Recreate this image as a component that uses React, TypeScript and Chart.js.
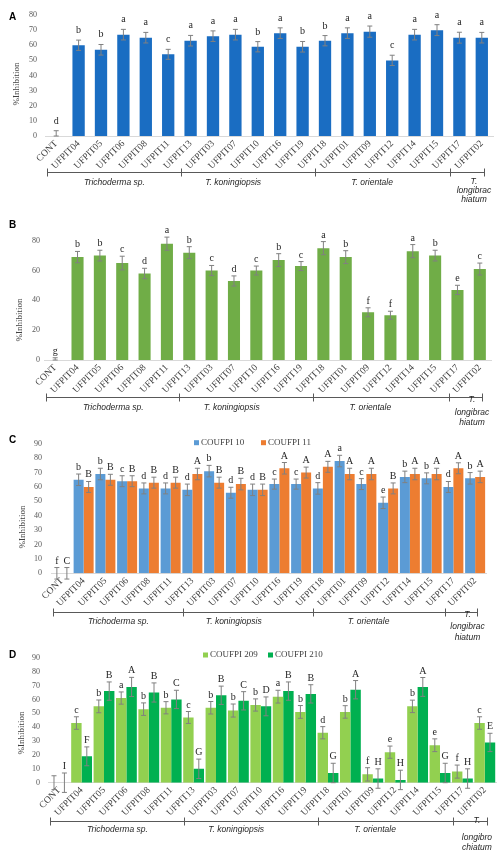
import { useEffect, useRef } from 'react';
import { Chart, registerables } from 'chart.js';

Chart.register(...registerables);

// strains, in the order of the x axis
const strains = [
  'CONT', 'UFPIT04', 'UFPIT05', 'UFPIT06', 'UFPIT08', 'UFPIT11', 'UFPIT13', 'UFPIT03', 'UFPIT07', 'UFPIT10',
  'UFPIT16', 'UFPIT19', 'UFPIT18', 'UFPIT01', 'UFPIT09', 'UFPIT12', 'UFPIT14', 'UFPIT15', 'UFPIT17', 'UFPIT02',
];
const groupNames = ['Trichoderma sp.', 'T. koningiopsis', 'T. orientale'];
const longiLinesABC = ['T.', 'longibrac', 'hiatum'];
const longiLinesD = ['T.', 'longibro', 'chiatum'];
// bracket ticks and group label centres, in category units
const bracketTicks = [-0.4, 5.55, 11.55, 17.6, 19.1];
const groupCenters = [2.6, 7.9, 14.1, 18.65];

// A
const inhibA = [0, 60, 57, 67, 65, 54, 63, 66, 67, 59, 68, 59, 63, 68, 69, 50, 67, 70, 65, 65];
const errA = [3.5, 3.4, 3.5, 3.5, 3.5, 3.3, 3.5, 3.5, 3.5, 3.4, 3.5, 3.5, 3.4, 3.5, 3.7, 3.4, 3.5, 3.6, 3.6, 3.5];
const letA = ['d', 'b', 'b', 'a', 'a', 'c', 'a', 'a', 'a', 'b', 'a', 'b', 'b', 'a', 'a', 'c', 'a', 'a', 'a', 'a'];

// B
const inhibB = [0, 69, 70, 65, 58, 78, 72, 60, 53, 60, 67, 63, 75, 69, 32, 30, 73, 70, 47, 61];
const errB = [1.5, 3.8, 3.6, 4.6, 3.5, 4.4, 4, 3.4, 3.4, 3, 4.3, 3, 4.4, 4.3, 3, 2.7, 4.4, 3.6, 3.1, 4];
const letB = ['g', 'b', 'b', 'c', 'd', 'a', 'b', 'c', 'd', 'c', 'b', 'c', 'a', 'b', 'f', 'f', 'a', 'b', 'e', 'c'];

// C
const inhibC10 = [0, 65, 69, 64, 59, 59, 58, 71, 56, 58, 62, 62, 59, 78, 62, 49, 67, 66, 60, 66];
const errC10 = [4, 4, 4, 3.8, 3.8, 3.8, 4, 4, 3.8, 4, 3.5, 3.5, 4, 4, 3.8, 4, 4, 3.8, 3.8, 4];
const letC10 = ['f', 'b', 'b', 'c', 'd', 'd', 'd', 'b', 'd', 'd', 'c', 'c', 'd', 'a', 'c', 'e', 'b', 'b', 'd', 'b'];
const inhibC11 = [0, 60, 65, 64, 63, 63, 69, 63, 62, 58, 73, 70, 74, 69, 69, 59, 69, 69, 73, 67];
const errC11 = [4, 3.8, 3.8, 3.8, 3.8, 3.8, 4, 3.8, 4, 4, 4, 3.8, 3.8, 4, 4, 3.8, 4, 4, 3.8, 4];
const letC11 = ['C', 'B', 'B', 'B', 'B', 'B', 'A', 'B', 'B', 'B', 'A', 'A', 'A', 'A', 'A', 'B', 'A', 'A', 'A', 'A'];

// D
const inhibD209 = [0, 43, 55, 61, 53, 54, 47, 54, 52, 56, 62, 51, 36, 51, 6, 22, 55, 27, 8, 43];
const errD209 = [5, 4.5, 4.6, 4.4, 4.5, 4.4, 4.3, 4.5, 4.7, 4.4, 4.6, 4.6, 4.4, 4.5, 4.8, 4.4, 4.5, 4.6, 4.7, 4.5];
const letD209 = ['', 'c', 'b', 'a', 'b', 'b', 'c', 'b', 'b', 'b', 'a', 'b', 'd', 'b', 'f', 'e', 'b', 'e', 'f', 'c'];
const inhibD210 = [0, 19, 66, 69, 65, 60, 10, 63, 59, 55, 66, 64, 7, 67, 3, 2, 69, 7, 3, 29];
const errD210 = [7, 6.8, 6.6, 6.9, 6.9, 6.6, 7, 6.6, 6.6, 6.8, 6.6, 6.6, 7, 6.6, 7, 7, 6.8, 7, 7, 6.6];
const letD210 = ['I', 'F', 'B', 'A', 'B', 'C', 'G', 'B', 'C', 'D', 'B', 'B', 'G', 'A', 'H', 'H', 'A', 'G', 'H', 'E'];

type Series = { label: string; color: string; values: number[]; errors: number[]; letters: string[] };
type PanelSpec = {
  tag: string; tagY: number; top: number; height: number;
  series: Series[];
  yMax: number; yStep: number;
  area: { left: number; right: number; top: number; bottom: number };
  barPct: number; catPct: number;
  letterGap: number; clipZero: boolean;
  titleX: number; titleY: number; tickPad: number;
  bracketY: number; groupY: number; longiY: number[]; longiLines: string[];
  legendY?: number; legendX?: number[];
};

const SERIF = '"Liberation Serif", "Times New Roman", serif';
const SANS = '"Liberation Sans", Arial, sans-serif';

const panels: PanelSpec[] = [
  {
    tag: 'A', tagY: 17, top: 0, height: 210,
    series: [{ label: 'A', color: '#1A6DC2', values: inhibA, errors: errA, letters: letA }],
    yMax: 80, yStep: 10, area: { left: 45, right: 493, top: 15, bottom: 136 },
    barPct: 0.55, catPct: 1, letterGap: 7, clipZero: true, titleX: 17, titleY: 84, tickPad: 8,
    bracketY: 172.3, groupY: 182.5, longiY: [181.7, 191, 200], longiLines: longiLinesABC,
  },
  {
    tag: 'B', tagY: 15, top: 210, height: 220,
    series: [{ label: 'B', color: '#70AD47', values: inhibB, errors: errB, letters: letB }],
    yMax: 80, yStep: 20, area: { left: 44, right: 491, top: 30.7, bottom: 150 },
    barPct: 0.54, catPct: 1, letterGap: 4, clipZero: true, titleX: 20, titleY: 110, tickPad: 4,
    bracketY: 186.7, groupY: 197.5, longiY: [190, 203, 213], longiLines: longiLinesABC,
  },
  {
    tag: 'C', tagY: 10, top: 430, height: 215,
    series: [
      { label: 'COUFPI 10', color: '#5B9BD5', values: inhibC10, errors: errC10, letters: letC10 },
      { label: 'COUFPI 11', color: '#ED7D31', values: inhibC11, errors: errC11, letters: letC11 },
    ],
    yMax: 90, yStep: 10, area: { left: 51, right: 486, top: 10.7, bottom: 143.3 },
    barPct: 1, catPct: 0.92, letterGap: 4, clipZero: false, titleX: 23, titleY: 97, tickPad: 9,
    bracketY: 181.7, groupY: 191.3, longiY: [185, 196.7, 208], longiLines: longiLinesABC,
    legendY: 12.7, legendX: [194, 261],
  },
  {
    tag: 'D', tagY: 10, top: 645, height: 212,
    series: [
      { label: 'COUFPI 209', color: '#92D050', values: inhibD209, errors: errD209, letters: letD209 },
      { label: 'COUFPI 210', color: '#00B050', values: inhibD210, errors: errD210, letters: letD210 },
    ],
    yMax: 90, yStep: 10, area: { left: 48, right: 496, top: 10.7, bottom: 137.7 },
    barPct: 1, catPct: 0.93, letterGap: 4, clipZero: false, titleX: 22, titleY: 88, tickPad: 8,
    bracketY: 175.7, groupY: 185, longiY: [176, 192.3, 202.3], longiLines: longiLinesD,
    legendY: 10, legendX: [203, 268],
  },
];

function Panel({ spec }: { spec: PanelSpec }) {
  const canvasRef = useRef<HTMLCanvasElement>(null);

  useEffect(() => {
    if (!canvasRef.current) return;
    const s = spec;
    const extras = {
      id: 'extras',
      afterDatasetsDraw(chart: any) {
        const ctx = chart.ctx;
        const y = chart.scales.y;
        s.series.forEach((ser, di) => {
          const meta = chart.getDatasetMeta(di);
          meta.data.forEach((bar: any, i: number) => {
            const x = bar.x;
            const v = ser.values[i];
            const e = ser.errors[i];
            const hi = y.getPixelForValue(v + e);
            const lo = y.getPixelForValue(s.clipZero ? Math.max(0, v - e) : v - e);
            ctx.save();
            ctx.strokeStyle = '#808080';
            ctx.lineWidth = 1;
            ctx.beginPath();
            ctx.moveTo(x, hi); ctx.lineTo(x, lo);
            ctx.moveTo(x - 2.5, hi); ctx.lineTo(x + 2.5, hi);
            ctx.moveTo(x - 2.5, lo); ctx.lineTo(x + 2.5, lo);
            ctx.stroke();
            if (ser.letters[i]) {
              ctx.fillStyle = '#262626';
              ctx.font = `10px ${SERIF}`;
              ctx.textAlign = 'center';
              ctx.textBaseline = 'alphabetic';
              ctx.fillText(ser.letters[i], x, hi - s.letterGap);
            }
            ctx.restore();
          });
        });
      },
      afterDraw(chart: any) {
        const ctx = chart.ctx;
        const xs = chart.scales.x;
        ctx.save();
        // group bracket
        ctx.strokeStyle = '#595959';
        ctx.lineWidth = 1;
        ctx.beginPath();
        const bx = bracketTicks.map((t) => Math.round(xs.getPixelForValue(t)) + 0.5);
        const by = Math.round(s.bracketY) + 0.5;
        ctx.moveTo(bx[0], by); ctx.lineTo(bx[bx.length - 1], by);
        bx.forEach((px) => { ctx.moveTo(px, by - 4); ctx.lineTo(px, by + 4); });
        ctx.stroke();
        // group names
        ctx.fillStyle = '#262626';
        ctx.font = `italic 8.5px ${SANS}`;
        ctx.textAlign = 'center';
        ctx.textBaseline = 'middle';
        groupNames.forEach((g, i) => ctx.fillText(g, xs.getPixelForValue(groupCenters[i]), s.groupY));
        s.longiLines.forEach((t, i) => ctx.fillText(t, xs.getPixelForValue(groupCenters[3]), s.longiY[i]));
        // y title
        ctx.save();
        ctx.translate(s.titleX, s.titleY);
        ctx.rotate(-Math.PI / 2);
        ctx.fillStyle = '#404040';
        ctx.font = `9px ${SERIF}`;
        ctx.fillText('%Inhibition', 0, 0);
        ctx.restore();
        // panel tag
        ctx.font = `bold 10px ${SANS}`;
        ctx.textAlign = 'left';
        ctx.fillStyle = '#000';
        ctx.fillText(s.tag, 9, s.tagY);
        // legend
        if (s.legendX && s.legendY !== undefined) {
          s.series.forEach((ser, i) => {
            const lx = s.legendX![i];
            ctx.fillStyle = ser.color;
            ctx.fillRect(lx, s.legendY! - 2.5, 5, 5);
            ctx.fillStyle = '#404040';
            ctx.font = `9px ${SERIF}`;
            ctx.textAlign = 'left';
            ctx.fillText(ser.label, lx + 7, s.legendY!);
          });
        }
        ctx.restore();
      },
    };

    const chart = new Chart(canvasRef.current, {
      type: 'bar',
      data: {
        labels: strains,
        datasets: s.series.map((ser) => ({
          label: ser.label,
          data: ser.values,
          backgroundColor: ser.color,
          borderWidth: 0,
          barPercentage: s.barPct,
          categoryPercentage: s.catPct,
        })),
      },
      options: {
        responsive: true,
        maintainAspectRatio: false,
        animation: false,
        layout: { padding: { top: s.area.top, right: 500 - s.area.right, left: 0, bottom: 0 } },
        plugins: { legend: { display: false }, tooltip: { enabled: false } },
        scales: {
          x: {
            grid: { display: false, drawTicks: false },
            border: { color: '#d9d9d9' },
            ticks: {
              minRotation: 45, maxRotation: 45, autoSkip: false, padding: 2,
              color: '#404040', font: { family: SERIF, size: 9.5 },
            },
            afterFit: (sc: any) => { sc.height = s.height - s.area.bottom; },
          },
          y: {
            min: 0, max: s.yMax,
            grid: { display: false, drawTicks: false },
            border: { display: false },
            ticks: {
              stepSize: s.yStep, includeBounds: false, padding: s.tickPad,
              color: '#595959', font: { family: SERIF, size: 8 },
            },
            afterFit: (sc: any) => { sc.width = s.area.left; },
          },
        },
      },
      plugins: [extras],
    });
    return () => { chart.destroy(); };
  }, [spec]);

  return (
    <div style={{ position: 'absolute', left: 0, top: spec.top, width: 500, height: spec.height }}>
      <canvas ref={canvasRef} />
    </div>
  );
}

export default function App() {
  return (
    <div style={{ position: 'absolute', left: 0, top: 0, width: 500, height: 857, background: '#fff' }}>
      {panels.map((p) => <Panel key={p.tag} spec={p} />)}
    </div>
  );
}
